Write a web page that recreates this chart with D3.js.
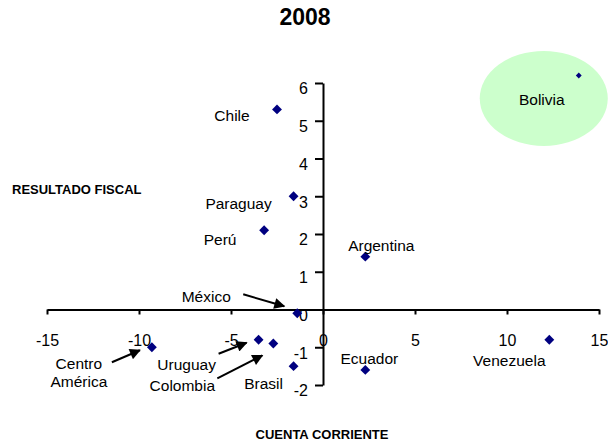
<!DOCTYPE html>
<html>
<head>
<meta charset="utf-8">
<script src="https://cdn.jsdelivr.net/npm/d3@7"></script>
<style>
  html, body { margin: 0; padding: 0; background: #fff; }
  svg { display: block; font-family: "Liberation Sans", Arial, sans-serif; }
</style>
</head>
<body>
<svg id="chart" width="608" height="444"></svg>
<script>
// ---- data ----
const countries = ["Chile", "Paraguay", "Perú", "México", "Argentina", "Ecuador", "Venezuela", "Bolivia", "Centro América", "Uruguay", "Colombia", "Brasil"];
const cuentaCorriente = [-2.5, -1.6, -3.2, -1.4, 2.3, 2.3, 12.3, 13.9, -9.3, -3.5, -2.7, -1.6];
const resultadoFiscal = [5.3, 3.0, 2.1, -0.1, 1.4, -1.6, -0.8, 6.2, -1.0, -0.8, -0.9, -1.5];
const xTicks = [-15, -10, -5, 0, 5, 10, 15];
const yTicks = [-2, -1, 0, 1, 2, 3, 4, 5, 6];
const title = "2008";
const xTitle = "CUENTA CORRIENTE";
const yTitle = "RESULTADO FISCAL";
const highlighted = "Bolivia";

// ---- layout (pixel offsets relative to each marker) ----
const labelLayout = {
  "Chile": {dx: -45, dy: 6},
  "Paraguay": {dx: -55, dy: 7},
  "Perú": {dx: -44, dy: 9},
  "México": {dx: -91, dy: -17},
  "Argentina": {dx: 16, dy: -11},
  "Ecuador": {dx: 4, dy: -11},
  "Venezuela": {dx: -40, dy: 21},
  "Bolivia": {dx: -37, dy: 24},
  "Centro América": {dx: -73, dy: 16, lines: ["Centro", "América"]},
  "Uruguay": {dx: -72, dy: 25},
  "Colombia": {dx: -91, dy: 42},
  "Brasil": {dx: -30, dy: 17}
};
const arrowLayout = {
  "México": [[-54, -19], [-13, -7]],
  "Centro América": [[-40, 15], [-12, 3]],
  "Uruguay": [[-40, 14], [-12, 3]],
  "Colombia": [[-56, 35], [-11, 12]]
};

const svg = d3.select("#chart");
const x = d3.scaleLinear().domain([-15, 15]).range([47, 599]);
const y = d3.scaleLinear().domain([-2, 6]).range([385, 83]);

svg.append("defs").append("marker")
  .attr("id", "arrow").attr("viewBox", "0 0 10 10")
  .attr("refX", 9).attr("refY", 5)
  .attr("markerWidth", 6).attr("markerHeight", 5.5)
  .attr("markerUnits", "strokeWidth")
  .attr("orient", "auto")
  .append("path").attr("d", "M0,0 L10,5 L0,10 z").attr("fill", "#000");

const pts = countries.map((c, i) => ({name: c, cx: x(cuentaCorriente[i]), cy: y(resultadoFiscal[i])}));

// highlight ellipse
const hb = pts.find(p => p.name === highlighted);
svg.append("ellipse")
  .attr("cx", hb.cx - 35).attr("cy", hb.cy + 23)
  .attr("rx", 64).attr("ry", 47.5)
  .attr("fill", "#ccffcc");

// axes
const fmt = d => String(d);
const xAxis = svg.append("g").attr("transform", `translate(0,${y(0)})`)
  .call(d3.axisBottom(x).tickValues(xTicks).tickFormat(fmt).tickSize(5).tickSizeOuter(0).tickPadding(20));
const yAxis = svg.append("g").attr("transform", `translate(${x(0)},0)`)
  .call(d3.axisLeft(y).tickValues(yTicks).tickFormat(fmt).tickSize(8).tickSizeOuter(0).tickPadding(7));
[xAxis, yAxis].forEach(g => {
  g.select(".domain").attr("stroke", "#000").attr("stroke-width", 2);
  g.selectAll(".tick line").attr("stroke", "#000").attr("stroke-width", 2);
  g.selectAll(".tick text").attr("fill", "#000")
    .style("font-size", "16px").style("font-family", "'Liberation Sans', Arial, sans-serif");
});
yAxis.selectAll(".tick text").attr("dy", "0.68em");

// arrows
Object.entries(arrowLayout).forEach(([name, seg]) => {
  const p = pts.find(d => d.name === name);
  svg.append("line")
    .attr("x1", p.cx + seg[0][0]).attr("y1", p.cy + seg[0][1])
    .attr("x2", p.cx + seg[1][0]).attr("y2", p.cy + seg[1][1])
    .attr("stroke", "#000").attr("stroke-width", 2)
    .attr("marker-end", "url(#arrow)");
});

// markers
svg.append("g").selectAll("path").data(pts).join("path")
  .attr("transform", d => `translate(${d.cx},${d.cy})`)
  .attr("d", d => d3.symbol().type(d3.symbolDiamond2).size(d.name === highlighted ? 22 : 62)())
  .attr("fill", "#000080");

// labels
const lab = svg.append("g").style("font-size", "15.5px").attr("fill", "#000");
pts.forEach(p => {
  const l = labelLayout[p.name];
  const lines = l.lines || [p.name];
  lines.forEach((t, k) => {
    lab.append("text")
      .attr("x", p.cx + l.dx).attr("y", p.cy + l.dy + k * 18)
      .attr("dy", "0.35em").attr("text-anchor", "middle")
      .text(t);
  });
});

// titles
svg.append("text").attr("x", 305).attr("y", 17).attr("dy", "0.35em")
  .attr("text-anchor", "middle").style("font-size", "23px").style("font-weight", "bold")
  .text(title);
svg.append("text").attr("x", 12).attr("y", 189).attr("dy", "0.35em")
  .style("font-size", "13px").style("font-weight", "bold").text(yTitle);
svg.append("text").attr("x", 322).attr("y", 434).attr("dy", "0.35em")
  .attr("text-anchor", "middle").style("font-size", "13px").style("font-weight", "bold").text(xTitle);
</script>
</body>
</html>
